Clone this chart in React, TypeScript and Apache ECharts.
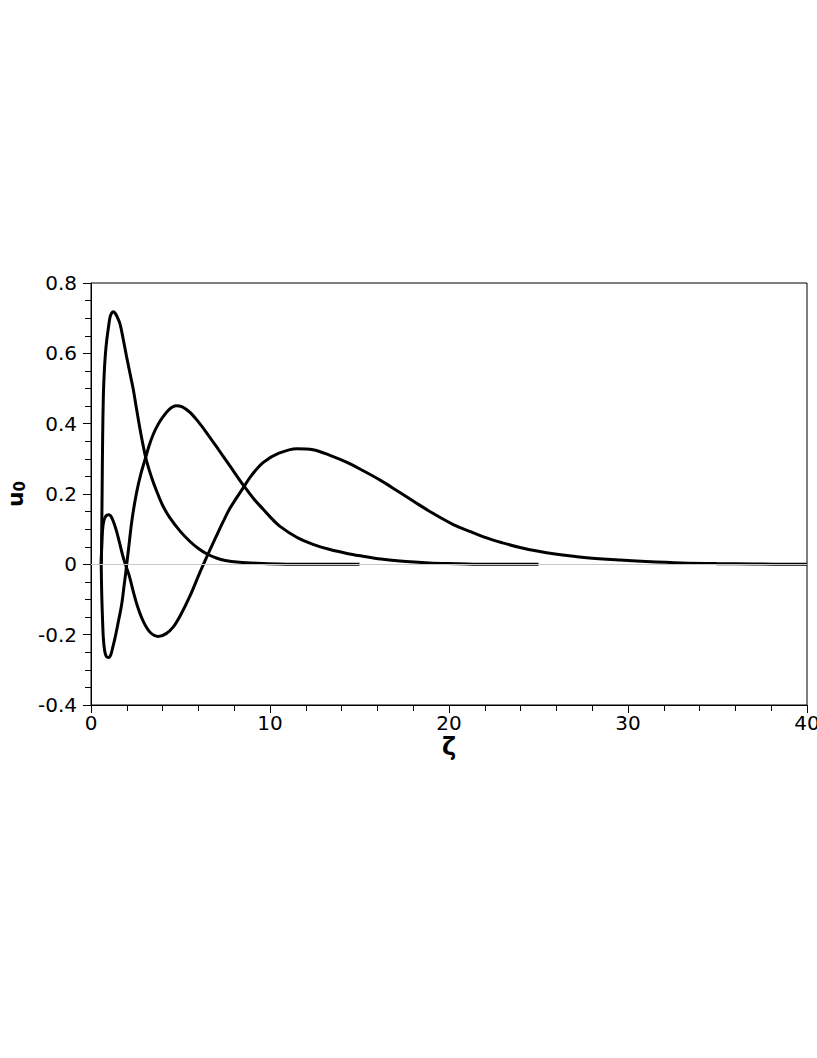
import React, { useEffect, useRef } from "react";
import * as echarts from "echarts";

// Curve 1 (no node)
const c1Z = [0.58, 0.6, 0.62, 0.65, 0.69, 0.74, 0.8, 0.88, 0.97, 1.06, 1.15, 1.25, 1.35, 1.45, 1.62, 1.8, 1.99, 2.17, 2.36, 2.55, 2.74, 2.92, 3.11, 3.4, 3.67, 4.0, 4.41, 5.0, 5.53, 6.0, 6.46, 7.0, 7.5, 8.3, 9.3, 10.5, 12, 15];
const c1U = [0, 0.1, 0.2, 0.36, 0.478, 0.545, 0.595, 0.638, 0.672, 0.702, 0.714, 0.718, 0.714, 0.705, 0.684, 0.64, 0.59, 0.545, 0.498, 0.44, 0.384, 0.336, 0.293, 0.245, 0.208, 0.168, 0.132, 0.093, 0.065, 0.045, 0.03, 0.018, 0.011, 0.006, 0.003, 0.001, 0, 0];

// Curve 2 (one node)
const c2Z = [0.57, 0.6, 0.64, 0.69, 0.76, 0.86, 1.0, 1.12, 1.22, 1.34, 1.5, 1.71, 1.85, 1.95, 2.1, 2.3, 2.55, 2.8, 3.02, 3.25, 3.48, 3.75, 4.0, 4.4, 4.75, 5.1, 5.53, 6.0, 6.46, 7.1, 7.77, 8.51, 9.1, 9.63, 10.1, 10.56, 11.49, 12.4, 13.35, 14.3, 15.2, 16.2, 17.1, 18.9, 20.5, 22, 25];
const c2U = [0, -0.086, -0.15, -0.21, -0.245, -0.262, -0.265, -0.255, -0.235, -0.21, -0.17, -0.115, -0.06, -0.02, 0.045, 0.13, 0.205, 0.26, 0.298, 0.338, 0.37, 0.398, 0.418, 0.442, 0.451, 0.448, 0.432, 0.405, 0.374, 0.328, 0.279, 0.225, 0.186, 0.156, 0.13, 0.108, 0.077, 0.057, 0.042, 0.031, 0.023, 0.015, 0.01, 0.004, 0.002, 0, 0];

// Curve 3 (two nodes)
const c3Z = [0.56, 0.6, 0.64, 0.7, 0.8, 0.9, 1.0, 1.1, 1.2, 1.3, 1.43, 1.6, 1.81, 1.99, 2.15, 2.36, 2.6, 2.92, 3.3, 3.76, 4.2, 4.6, 5.0, 5.53, 6.09, 6.5, 7.0, 7.39, 7.77, 8.51, 9.0, 9.63, 10.5, 11.5, 12.4, 13.35, 14.3, 15.21, 16.2, 17.08, 18.0, 19.0, 20.24, 21.2, 22.1, 23.0, 23.97, 25, 25.83, 27.69, 29.55, 31, 33, 35, 37, 40];
const c3U = [0, 0.05, 0.094, 0.12, 0.135, 0.14, 0.141, 0.138, 0.128, 0.115, 0.094, 0.06, 0.018, -0.01, -0.035, -0.077, -0.12, -0.162, -0.193, -0.205, -0.197, -0.178, -0.145, -0.09, -0.022, 0.025, 0.08, 0.122, 0.16, 0.218, 0.255, 0.29, 0.316, 0.329, 0.326, 0.31, 0.29, 0.266, 0.238, 0.21, 0.18, 0.148, 0.113, 0.093, 0.075, 0.061, 0.048, 0.037, 0.03, 0.019, 0.012, 0.008, 0.004, 0.002, 0.001, 0];

const xMin = 0, xMax = 40, xStep = 10;
const yMin = -0.4, yMax = 0.8, yStep = 0.2;

const pairs = (z: number[], u: number[]) => z.map((v, i) => [v, u[i]]);

const FONT = "'DejaVu Sans', Verdana, sans-serif";

export default function App() {
  const ref = useRef<HTMLDivElement>(null);
  useEffect(() => {
    document.body.style.margin = "0";
    const chart = echarts.init(ref.current!, null, { renderer: "svg" });
    const curve = (name: string, z: number[], u: number[]) => ({
      name,
      type: "line",
      data: pairs(z, u),
      showSymbol: false,
      symbol: "none",
      smooth: 0.35,
      z: 3,
      lineStyle: { color: "#000", width: 3 },
    });
    chart.setOption({
      animation: false,
      backgroundColor: "#fff",
      grid: {
        left: 91,
        right: 10,
        top: 283,
        bottom: 353,
        show: true,
        borderColor: "#000",
        borderWidth: 1,
        backgroundColor: "transparent",
        outerBoundsMode: "none",
        containLabel: false,
      },
      xAxis: {
        type: "value",
        min: xMin,
        max: xMax,
        interval: xStep,
        name: "ζ",
        nameLocation: "middle",
        nameGap: 30,
        nameTextStyle: { fontFamily: FONT, fontSize: 24, fontWeight: "bold", color: "#000" },
        axisLine: { show: true, onZero: false, lineStyle: { color: "#000", width: 1 } },
        axisTick: { show: true, length: 8, lineStyle: { color: "#000" } },
        minorTick: { show: true, splitNumber: 5, length: 6, lineStyle: { color: "#000" } },
        splitLine: { show: false },
        axisLabel: { fontFamily: FONT, fontSize: 20, color: "#000", margin: 8 },
      },
      yAxis: {
        type: "value",
        min: yMin,
        max: yMax,
        interval: yStep,
        name: "{u|u}{s|0}",
        nameLocation: "middle",
        nameGap: 58,
        nameRotate: 90,
        nameTextStyle: {
          color: "#000",
          rich: {
            u: { fontFamily: FONT, fontSize: 22, fontWeight: "bold", color: "#000" },
            s: { fontFamily: FONT, fontSize: 15, fontWeight: "bold", color: "#000", verticalAlign: "bottom", padding: [8, 0, 0, 0] },
          },
        },
        axisLine: { show: true, onZero: false, lineStyle: { color: "#000", width: 1 } },
        axisTick: { show: true, length: 8, lineStyle: { color: "#000" } },
        minorTick: { show: true, splitNumber: 4, length: 6, lineStyle: { color: "#000" } },
        splitLine: { show: false },
        axisLabel: {
          fontFamily: FONT,
          fontSize: 20,
          color: "#000",
          margin: 14,
          formatter: (v: number) => String(Math.round(v * 10) / 10),
        },
      },
      series: [
        {
          name: "zero",
          type: "line",
          data: [],
          z: 1,
          markLine: {
            silent: true,
            symbol: "none",
            label: { show: false },
            lineStyle: { color: "#c8c8c8", width: 1, type: "solid" },
            data: [{ yAxis: 0 }],
          },
        },
        curve("c1", c1Z, c1U),
        curve("c2", c2Z, c2U),
        curve("c3", c3Z, c3U),
      ],
    });
    return () => chart.dispose();
  }, []);
  return <div ref={ref} style={{ width: 817, height: 1058 }} />;
}
